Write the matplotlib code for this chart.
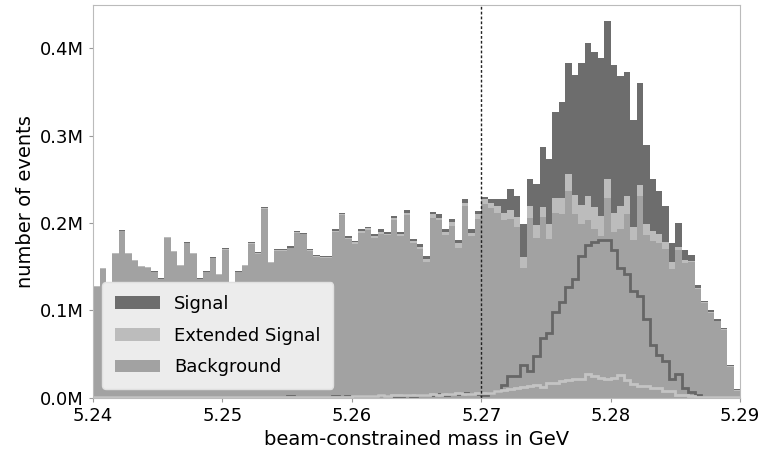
import numpy as np
import matplotlib
matplotlib.use("Agg")
import matplotlib.pyplot as plt
from matplotlib.ticker import FuncFormatter

# bin range of the histogram (100 bins)
x_min, x_max, n_bins = 5.24, 5.29, 100

# total stacked height per bin, in millions of events
total = [
    0.128, 0.149, 0.128, 0.166, 0.192, 0.166, 0.158, 0.151, 0.150, 0.145,
    0.137, 0.184, 0.168, 0.152, 0.178, 0.166, 0.137, 0.145, 0.161, 0.142,
    0.171, 0.127, 0.145, 0.152, 0.178, 0.167, 0.218, 0.156, 0.170, 0.170,
    0.174, 0.191, 0.189, 0.170, 0.163, 0.162, 0.162, 0.193, 0.211, 0.185,
    0.180, 0.193, 0.196, 0.187, 0.193, 0.190, 0.208, 0.190, 0.215, 0.182,
    0.176, 0.162, 0.213, 0.210, 0.193, 0.205, 0.181, 0.228, 0.193, 0.214,
    0.230, 0.228, 0.227, 0.227, 0.239, 0.231, 0.199, 0.250, 0.245, 0.287,
    0.273, 0.327, 0.339, 0.383, 0.369, 0.383, 0.406, 0.396, 0.389, 0.431,
    0.381, 0.368, 0.373, 0.318, 0.360, 0.289, 0.251, 0.237, 0.220, 0.177,
    0.200, 0.169, 0.164, 0.129, 0.111, 0.100, 0.090, 0.080, 0.038, 0.010,
]

# signal component per bin (millions)
signal = [
    0.0005, 0.0005, 0.0005, 0.0005, 0.0005, 0.0005, 0.0005, 0.0005, 0.0005, 0.0005,
    0.0005, 0.0005, 0.0005, 0.0005, 0.0005, 0.0005, 0.0005, 0.0005, 0.0005, 0.0005,
    0.0005, 0.0005, 0.0005, 0.0005, 0.0005, 0.001, 0.001, 0.001, 0.001, 0.001,
    0.002, 0.001, 0.001, 0.001, 0.001, 0.001, 0.001, 0.002, 0.001, 0.002,
    0.002, 0.002, 0.002, 0.002, 0.003, 0.002, 0.002, 0.002, 0.003, 0.002,
    0.003, 0.003, 0.003, 0.004, 0.003, 0.004, 0.004, 0.005, 0.004, 0.004,
    0.003, 0.005, 0.008, 0.015, 0.0245, 0.0245, 0.038, 0.031, 0.0475, 0.0686,
    0.0743, 0.0985, 0.110, 0.1268, 0.1364, 0.1625, 0.175, 0.1778, 0.1805, 0.1805,
    0.169, 0.149, 0.142, 0.122, 0.116, 0.0897, 0.060, 0.049, 0.042, 0.022,
    0.027, 0.011, 0.007, 0.0035, 0.0015, 0.0015, 0.0015, 0.0015, 0.0015, 0.001,
]

# extended signal component per bin (millions)
ext_signal = [
    0.0005, 0.0005, 0.0005, 0.0005, 0.0005, 0.0005, 0.0005, 0.0005, 0.0005, 0.0005,
    0.0005, 0.0005, 0.0005, 0.0005, 0.0005, 0.0005, 0.0005, 0.0005, 0.0005, 0.0005,
    0.001, 0.001, 0.001, 0.001, 0.001, 0.001, 0.001, 0.001, 0.001, 0.001,
    0.001, 0.001, 0.001, 0.001, 0.001, 0.001, 0.001, 0.001, 0.001, 0.001,
    0.002, 0.002, 0.002, 0.002, 0.003, 0.002, 0.003, 0.003, 0.003, 0.003,
    0.003, 0.003, 0.004, 0.003, 0.004, 0.004, 0.005, 0.004, 0.004, 0.005,
    0.005, 0.006, 0.008, 0.009, 0.010, 0.011, 0.012, 0.013, 0.015, 0.012,
    0.017, 0.017, 0.019, 0.020, 0.022, 0.022, 0.027, 0.0245, 0.023, 0.022,
    0.0225, 0.0257, 0.0207, 0.0157, 0.013, 0.013, 0.011, 0.011, 0.0073, 0.0073,
    0.0035, 0.0035, 0.002, 0.001, 0.001, 0.001, 0.001, 0.001, 0.001, 0.001,
]

edges = np.linspace(x_min, x_max, n_bins + 1)
centers = 0.5 * (edges[:-1] + edges[1:])
total = np.array(total) * 1e6
signal = np.array(signal) * 1e6
ext_signal = np.array(ext_signal) * 1e6
background = total - signal - ext_signal

c_sig = "#6d6d6d"
c_ext = "#bcbcbc"
c_bkg = "#a2a2a2"

fig, ax = plt.subplots(figsize=(7.63, 4.61), dpi=100)
fig.subplots_adjust(left=0.122, right=0.970, top=0.990, bottom=0.137)

ax.hist([centers, centers, centers], bins=edges,
        weights=[background, ext_signal, signal], stacked=True,
        histtype="stepfilled", color=[c_bkg, c_ext, c_sig],
        label=["Background", "Extended Signal", "Signal"])
ax.hist(centers, bins=edges, weights=signal, histtype="step",
        color="#666666", linewidth=2)
ax.hist(centers, bins=edges, weights=ext_signal, histtype="step",
        color="#c4c4c4", linewidth=2)

ax.axvline(5.27, color="#222222", linestyle=(0, (2, 1.5)), linewidth=1)

ax.set_xlim(x_min, x_max)
ax.set_ylim(0, 450000)
ax.set_xticks([5.24, 5.25, 5.26, 5.27, 5.28, 5.29])
ax.set_yticks([0, 100000, 200000, 300000, 400000])
ax.yaxis.set_major_formatter(FuncFormatter(lambda v, p: f"{v / 1e6:.1f}M"))
ax.tick_params(labelsize=13, length=3, color="#999999")
for s in ax.spines.values():
    s.set_color("#bbbbbb")
ax.set_xlabel("beam-constrained mass in GeV", fontsize=14)
ax.set_ylabel("number of events", fontsize=14)

# legend order top to bottom: Signal, Extended Signal, Background
handles, labels = ax.get_legend_handles_labels()
order = [labels.index(n) for n in ["Signal", "Extended Signal", "Background"]]
leg = ax.legend([handles[i] for i in order], [labels[i] for i in order],
                loc="lower left", fontsize=13,
                frameon=True, facecolor="#ececec", edgecolor="#e0e0e0",
                framealpha=1, borderpad=0.7, labelspacing=0.75, handlelength=2.5)

fig.savefig("out.png")
